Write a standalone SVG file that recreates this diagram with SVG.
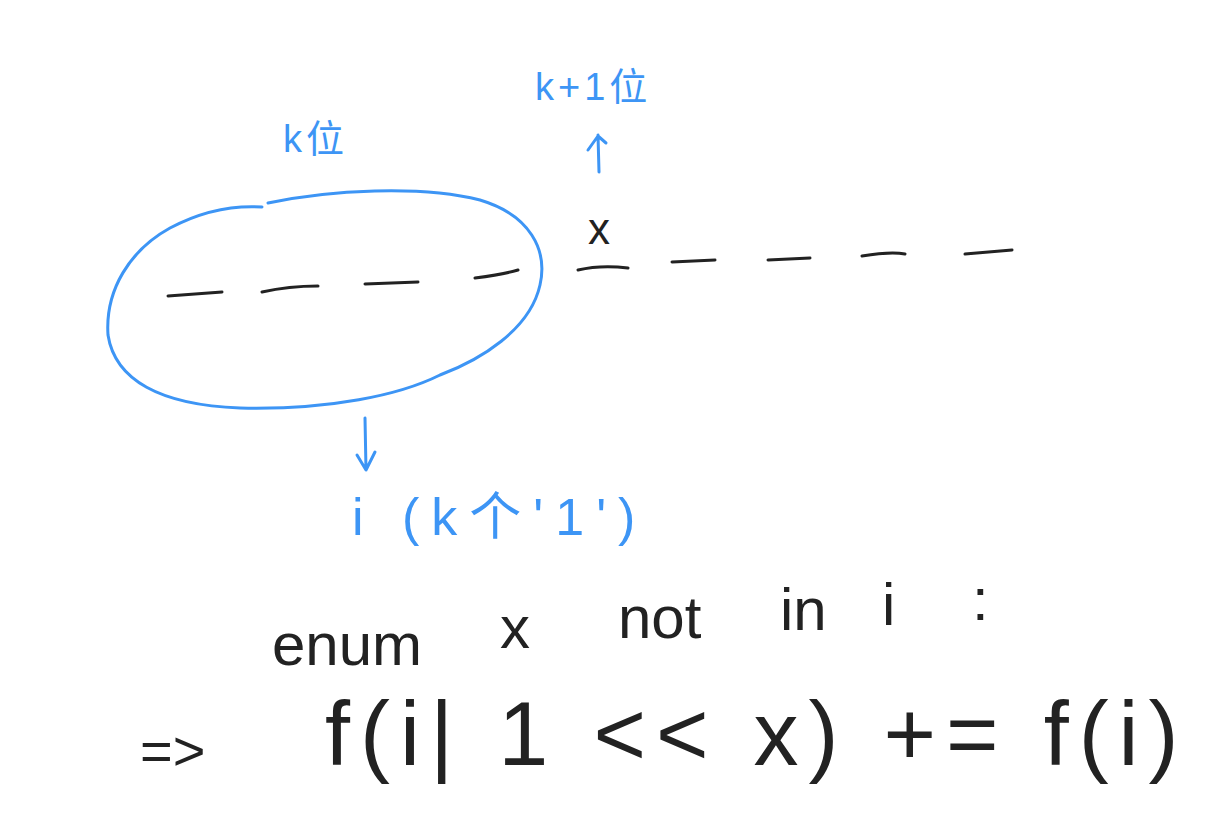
<svg xmlns="http://www.w3.org/2000/svg" width="1229" height="836" viewBox="0 0 1229 836">
<style>
.b{stroke:#3d95f5;fill:none;stroke-width:3;stroke-linecap:round;stroke-linejoin:round}
.k{stroke:#222;fill:none;stroke-width:3;stroke-linecap:round}
.tb{fill:#3d95f5;font-family:"Liberation Sans","Noto Sans CJK SC",sans-serif}
.tk{fill:#222;font-family:"Liberation Sans",sans-serif}
</style>
<rect width="1229" height="836" fill="#fff"/>
<g id="set-i">
<path class="b" d="M268,203 C330,190 420,185 480,200 C530,215 548,250 540,285 C530,330 480,360 440,375 C400,395 330,410 240,408 C160,405 115,380 108,335 C105,290 130,250 170,228 C200,212 230,205 262,207"/>
</g>
<g id="bits">
<path class="k" d="M168,296 L222,292 M262,292 C280,288 300,286 318,286 M365,284 L418,282 M475,278 C490,276 505,274 518,270 M578,270 C595,266 612,266 628,268 M672,262 L715,260 M768,260 L810,258 M862,256 C880,253 895,252 905,254 M965,254 L1012,250"/>
<text class="tk" x="588" y="244" font-size="44">x</text>
</g>
<g id="labels">
<text class="tb" x="283" y="152" font-size="38" letter-spacing="4">k位</text>
<text class="tb" x="535" y="100" font-size="38" letter-spacing="4">k+1位</text>
<text class="tb" x="352" y="535" font-size="52" letter-spacing="12">i (k个'1')</text>
</g>
<g id="connectors">
<path class="b" d="M599,172 L598,135 M588,150 L598,136 L606,143"/>
<path class="b" d="M365,418 L366,470 M357,455 L366,470 L375,452"/>
</g>
<g id="formula">
<text class="tk" x="272" y="665" font-size="60">enum</text>
<text class="tk" x="500" y="648" font-size="60">x</text>
<text class="tk" x="618" y="638" font-size="60">not</text>
<text class="tk" x="780" y="630" font-size="60">in</text>
<text class="tk" x="882" y="625" font-size="60">i</text>
<text class="tk" x="972" y="620" font-size="60">:</text>
<text class="tk" x="140" y="770" font-size="56">=&gt;</text>
<text class="tk" x="325" y="765" font-size="90" letter-spacing="10">f(i| 1 &lt;&lt; x) += f(i)</text>
</g>
</svg>
